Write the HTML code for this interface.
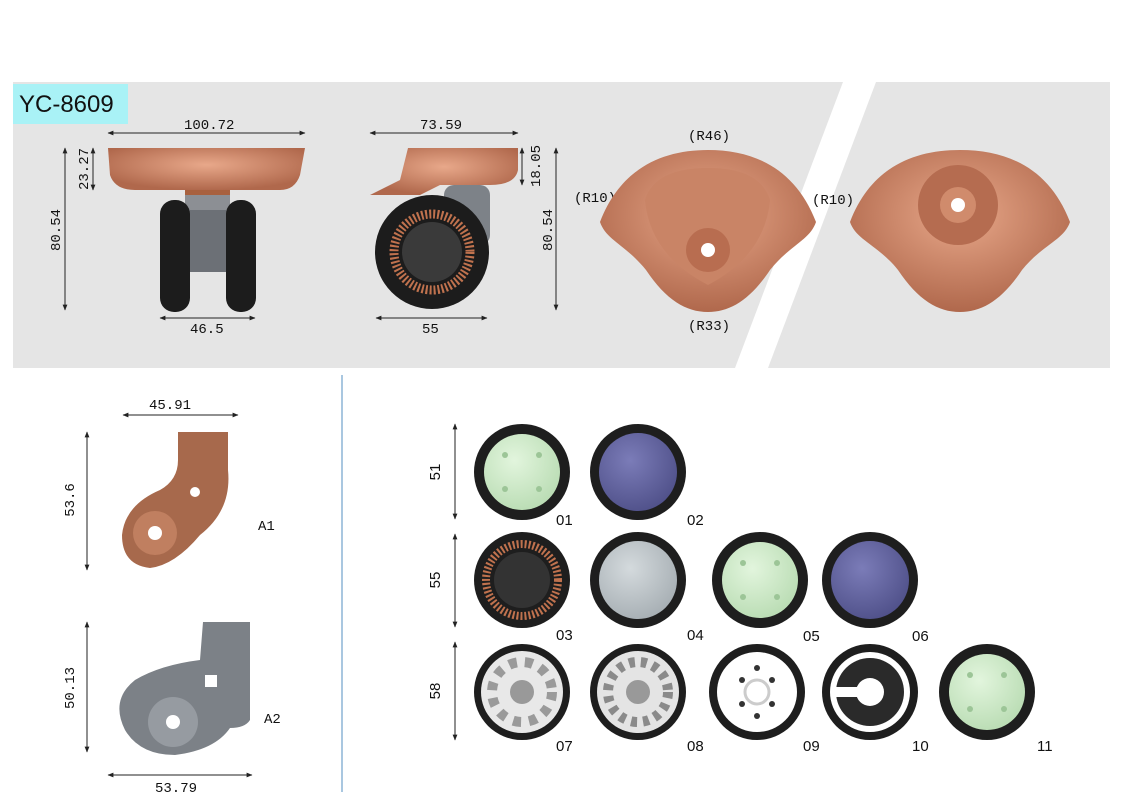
<!DOCTYPE html>
<html><head><meta charset="utf-8"><style>
html,body{margin:0;padding:0;background:#fff;}
svg{display:block;font-family:"Liberation Mono","DejaVu Sans Mono",monospace;}
</style></head><body>
<svg width="1123" height="794" viewBox="0 0 1123 794" xmlns="http://www.w3.org/2000/svg">
<defs>
<marker id="a" viewBox="0 0 10 10" refX="9" refY="5" markerWidth="6" markerHeight="6" orient="auto-start-reverse"><path d="M0,1 L10,5 L0,9 z" fill="#222"/></marker>
<radialGradient id="cu" cx="50%" cy="40%" r="60%"><stop offset="0" stop-color="#e8a88a"/><stop offset="1" stop-color="#b0684c"/></radialGradient>
<radialGradient id="gr" cx="40%" cy="35%" r="70%"><stop offset="0" stop-color="#e2f5dd"/><stop offset="1" stop-color="#b9dcb3"/></radialGradient>
<radialGradient id="pu" cx="40%" cy="35%" r="70%"><stop offset="0" stop-color="#7b7cb8"/><stop offset="1" stop-color="#4f5089"/></radialGradient>
<radialGradient id="gy" cx="40%" cy="35%" r="70%"><stop offset="0" stop-color="#d4dadd"/><stop offset="1" stop-color="#a6aeb3"/></radialGradient>
</defs>
<polygon points="13,82 843,82 735,368 13,368" fill="#e5e5e5"/>
<polygon points="876,82 1110,82 1110,368 768,368" fill="#e5e5e5"/>
<rect x="13" y="84" width="115" height="40" fill="#a9f2f6"/>
<text x="19" y="112" font-family="Liberation Sans,sans-serif" font-size="24" fill="#111">YC-8609</text>
<line x1="342" y1="375" x2="342" y2="792" stroke="#a9c7e0" stroke-width="2"/>

<g stroke="#222" stroke-width="1" fill="none">
<line x1="108" y1="133" x2="305" y2="133" marker-start="url(#a)" marker-end="url(#a)"/>
<line x1="65" y1="148" x2="65" y2="310" marker-start="url(#a)" marker-end="url(#a)"/>
<line x1="93" y1="148" x2="93" y2="190" marker-start="url(#a)" marker-end="url(#a)"/>
<line x1="160" y1="318" x2="255" y2="318" marker-start="url(#a)" marker-end="url(#a)"/>
<line x1="370" y1="133" x2="518" y2="133" marker-start="url(#a)" marker-end="url(#a)"/>
<line x1="522" y1="148" x2="522" y2="185" marker-start="url(#a)" marker-end="url(#a)"/>
<line x1="556" y1="148" x2="556" y2="310" marker-start="url(#a)" marker-end="url(#a)"/>
<line x1="376" y1="318" x2="487" y2="318" marker-start="url(#a)" marker-end="url(#a)"/>
<line x1="123" y1="415" x2="238" y2="415" marker-start="url(#a)" marker-end="url(#a)"/>
<line x1="87" y1="432" x2="87" y2="570" marker-start="url(#a)" marker-end="url(#a)"/>
<line x1="87" y1="622" x2="87" y2="752" marker-start="url(#a)" marker-end="url(#a)"/>
<line x1="108" y1="775" x2="252" y2="775" marker-start="url(#a)" marker-end="url(#a)"/>
<line x1="455" y1="424" x2="455" y2="519" marker-start="url(#a)" marker-end="url(#a)"/>
<line x1="455" y1="534" x2="455" y2="627" marker-start="url(#a)" marker-end="url(#a)"/>
<line x1="455" y1="642" x2="455" y2="740" marker-start="url(#a)" marker-end="url(#a)"/>
</g>
<g font-size="14" fill="#111">
<text x="184" y="129">100.72</text>
<text x="190" y="333">46.5</text>
<text x="420" y="129">73.59</text>
<text x="422" y="333">55</text>
<text x="149" y="409">45.91</text>
<text x="155" y="792" >53.79</text>
<text transform="translate(60,230) rotate(-90)" text-anchor="middle">80.54</text>
<text transform="translate(88,169) rotate(-90)" text-anchor="middle">23.27</text>
<text transform="translate(540,166) rotate(-90)" text-anchor="middle">18.05</text>
<text transform="translate(552,230) rotate(-90)" text-anchor="middle">80.54</text>
<text transform="translate(74,500) rotate(-90)" text-anchor="middle">53.6</text>
<text transform="translate(74,688) rotate(-90)" text-anchor="middle">50.13</text>
<text x="688" y="140">(R46)</text>
<text x="574" y="202">(R10)</text>
<text x="812" y="204">(R10)</text>
<text x="688" y="330">(R33)</text>
<text x="258" y="530">A1</text>
<text x="264" y="723">A2</text>
</g>
<g font-family="Liberation Sans,sans-serif" font-size="15" fill="#111">
<text transform="translate(440,472) rotate(-90)" text-anchor="middle">51</text>
<text transform="translate(440,580) rotate(-90)" text-anchor="middle">55</text>
<text transform="translate(440,691) rotate(-90)" text-anchor="middle">58</text>
<text x="556" y="525">01</text><text x="687" y="525">02</text>
<text x="556" y="640">03</text><text x="687" y="640">04</text><text x="803" y="641">05</text><text x="912" y="641">06</text>
<text x="556" y="751">07</text><text x="687" y="751">08</text><text x="803" y="751">09</text><text x="912" y="751">10</text><text x="1037" y="751">11</text>
</g>

<rect x="185" y="185" width="45" height="30" fill="#8c8f94"/>
<rect x="160" y="200" width="30" height="112" rx="14" fill="#1c1c1c"/>
<rect x="226" y="200" width="30" height="112" rx="14" fill="#1c1c1c"/>
<rect x="190" y="210" width="36" height="62" fill="#6c7076"/>
<rect x="185" y="170" width="45" height="25" fill="#a8613f"/>
<path d="M108,148 H305 L300,175 Q295,190 280,190 H135 Q115,190 110,175 Z" fill="url(#cu)"/>
<rect x="444" y="185" width="46" height="60" rx="10" fill="#7d8288"/>
<circle cx="432" cy="252" r="57" fill="#1c1c1c"/>
<circle cx="432" cy="252" r="38" fill="none" stroke="#c0724e" stroke-width="9" stroke-dasharray="2 2"/>
<circle cx="432" cy="252" r="30" fill="#3a3a3a"/>
<path d="M408,148 H518 V170 Q515,185 490,185 H440 L420,195 H370 L400,180 Z" fill="url(#cu)"/>
<!-- plate top -->
<path d="M600,222 C620,170 660,150 708,150 C756,150 796,170 816,222 C810,240 790,245 770,270 C750,300 730,312 708,312 C686,312 666,300 646,270 C626,245 606,240 600,222 Z" fill="url(#cu)"/>
<path d="M708,168 Q760,168 770,200 Q765,255 708,285 Q650,255 645,200 Q655,168 708,168 Z" fill="#c98466"/>
<circle cx="708" cy="250" r="22" fill="#b86d50"/><circle cx="708" cy="250" r="7" fill="#fff"/>
<!-- plate bottom -->
<path d="M850,222 C870,170 910,150 960,150 C1010,150 1050,170 1070,222 C1064,240 1042,245 1022,270 C1002,300 982,312 960,312 C938,312 918,300 898,270 C878,245 856,240 850,222 Z" fill="url(#cu)"/>
<circle cx="958" cy="205" r="40" fill="#b56c50"/><circle cx="958" cy="205" r="18" fill="#d08b6c"/><circle cx="958" cy="205" r="7" fill="#fff"/>
<!-- A1 -->
<path d="M178,432 H228 V470 Q232,510 200,535 Q175,565 150,568 Q122,565 122,535 Q125,505 160,490 Q178,480 178,460 Z" fill="#a7694c"/>
<circle cx="155" cy="533" r="22" fill="#c07f60"/><circle cx="155" cy="533" r="7" fill="#fff"/>
<circle cx="195" cy="492" r="5" fill="#fff"/>
<!-- A2 -->
<path d="M203,622 H250 V720 Q245,728 230,728 Q215,750 175,755 Q140,755 125,730 Q110,700 135,680 Q160,665 200,660 Z" fill="#7c8187"/>
<circle cx="173" cy="722" r="25" fill="#969ba1"/><circle cx="173" cy="722" r="7" fill="#fff"/>
<rect x="205" y="675" width="12" height="12" fill="#fff"/>

<g>
<circle cx="522" cy="472" r="48" fill="#1e1e1e"/><circle cx="522" cy="472" r="38" fill="url(#gr)"/>
<circle cx="638" cy="472" r="48" fill="#1e1e1e"/><circle cx="638" cy="472" r="39" fill="url(#pu)"/>
<circle cx="522" cy="580" r="48" fill="#1e1e1e"/><circle cx="522" cy="580" r="36" fill="none" stroke="#c0724e" stroke-width="8" stroke-dasharray="2 2"/><circle cx="522" cy="580" r="28" fill="#333"/>
<circle cx="638" cy="580" r="48" fill="#1e1e1e"/><circle cx="638" cy="580" r="39" fill="url(#gy)"/>
<circle cx="760" cy="580" r="48" fill="#1e1e1e"/><circle cx="760" cy="580" r="38" fill="url(#gr)"/>
<circle cx="870" cy="580" r="48" fill="#1e1e1e"/><circle cx="870" cy="580" r="39" fill="url(#pu)"/>
<circle cx="522" cy="692" r="48" fill="#1e1e1e"/><circle cx="522" cy="692" r="41" fill="#e8e8e8"/>
<circle cx="522" cy="692" r="30" fill="none" stroke="#9a9a9a" stroke-width="10" stroke-dasharray="8 8"/><circle cx="522" cy="692" r="12" fill="#999"/>
<circle cx="638" cy="692" r="48" fill="#1e1e1e"/><circle cx="638" cy="692" r="41" fill="#e4e4e4"/>
<circle cx="638" cy="692" r="30" fill="none" stroke="#8a8a8a" stroke-width="10" stroke-dasharray="6 6"/><circle cx="638" cy="692" r="12" fill="#999"/>
<circle cx="757" cy="692" r="48" fill="#1e1e1e"/><circle cx="757" cy="692" r="40" fill="#fff"/><circle cx="757" cy="692" r="12" fill="none" stroke="#ccc" stroke-width="3"/>
<circle cx="870" cy="692" r="48" fill="#1e1e1e"/><circle cx="870" cy="692" r="40" fill="#fff"/><circle cx="870" cy="692" r="34" fill="#2a2a2a"/><circle cx="870" cy="692" r="14" fill="#fff"/><rect x="836" y="687" width="34" height="10" fill="#fff"/>
<circle cx="987" cy="692" r="48" fill="#1e1e1e"/><circle cx="987" cy="692" r="38" fill="url(#gr)"/>
</g>
<g fill="#9cc597">
<circle cx="505" cy="455" r="3"/><circle cx="539" cy="455" r="3"/><circle cx="505" cy="489" r="3"/><circle cx="539" cy="489" r="3"/>
<circle cx="743" cy="563" r="3"/><circle cx="777" cy="563" r="3"/><circle cx="743" cy="597" r="3"/><circle cx="777" cy="597" r="3"/>
<circle cx="970" cy="675" r="3"/><circle cx="1004" cy="675" r="3"/><circle cx="970" cy="709" r="3"/><circle cx="1004" cy="709" r="3"/>
</g>
<g fill="#333"><circle cx="742" cy="680" r="3"/><circle cx="772" cy="680" r="3"/><circle cx="742" cy="704" r="3"/><circle cx="772" cy="704" r="3"/><circle cx="757" cy="668" r="3"/><circle cx="757" cy="716" r="3"/></g>
</svg>
</body></html>
